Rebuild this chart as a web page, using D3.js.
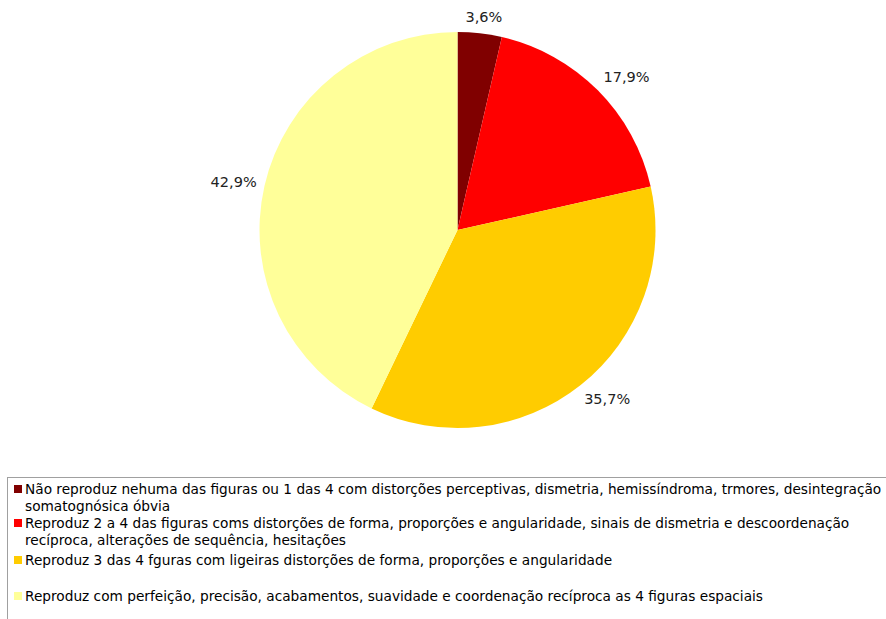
<!DOCTYPE html>
<html>
<head>
<meta charset="utf-8">
<script src="https://cdn.jsdelivr.net/npm/d3@7"></script>
<style>
  html, body { margin: 0; padding: 0; background: #fff; }
  svg { display: block; }
</style>
</head>
<body>
<div id="chart"></div>
<script>
// categories (legend text, may wrap onto two lines) and their shares
const categories = [
    ['Não reproduz nehuma das figuras ou 1 das 4 com distorções perceptivas, dismetria, hemissíndroma, trmores, desintegração', 'somatognósica óbvia'],
    ['Reproduz 2 a 4 das figuras coms distorções de forma, proporções e angularidade, sinais de dismetria e descoordenação', 'recíproca, alterações de sequência, hesitações'],
    ['Reproduz 3 das 4 fguras com ligeiras distorções de forma, proporções e angularidade'],
    ['Reproduz com perfeição, precisão, acabamentos, suavidade e coordenação recíproca as 4 figuras espaciais']
];
const values = [3.6, 17.9, 35.7, 42.9];
const labels = ['3,6%', '17,9%', '35,7%', '42,9%'];
const colors = ['#800000', '#ff0000', '#ffcc00', '#ffff99'];

const width = 886, height = 619;
const cx = 457.5, cy = 230, radius = 198;

const svg = d3.select('#chart')
    .append('svg')
    .attr('width', width)
    .attr('height', height);

const pie = d3.pie().sort(null).value(d => d)(values);
const arc = d3.arc().innerRadius(0).outerRadius(radius);

const g = svg.append('g').attr('transform', `translate(${cx},${cy})`);

g.selectAll('path.slice')
    .data(pie)
    .enter()
    .append('path')
    .attr('class', 'slice')
    .attr('d', arc)
    .attr('fill', (d, i) => colors[i]);

// data labels just outside the rim, box shifted away from the pie
const lbl = g.selectAll('text.lbl')
    .data(pie)
    .enter()
    .append('text')
    .attr('class', 'lbl')
    .attr('text-anchor', 'middle')
    .attr('dominant-baseline', 'central')
    .style('font-family', 'DejaVu Sans, Verdana, sans-serif')
    .style('font-size', '14.5px')
    .style('fill', '#222')
    .text((d, i) => labels[i]);

lbl.each(function (d) {
    const bb = this.getBBox();
    const a = (d.startAngle + d.endAngle) / 2;
    const s = Math.sin(a), c = Math.cos(a);
    const r = radius + 8;
    const kx = Math.sign(s) * Math.min(1, Math.abs(s) * 1.5);
    const ky = Math.sign(c) * Math.min(1, Math.abs(c) * 1.5);
    d3.select(this)
        .attr('x', r * s + kx * bb.width / 2)
        .attr('y', -r * c - ky * bb.height / 2);
});

// legend
const legend = svg.append('g');
legend.append('rect')
    .attr('x', 7.5)
    .attr('y', 477.5)
    .attr('width', 900)
    .attr('height', 200)
    .attr('fill', 'none')
    .attr('stroke', '#a0a0a0')
    .attr('stroke-width', 1);

const itemY = [489, 523, 560, 596];
const lineGap = 17;

categories.forEach((lines, i) => {
    legend.append('rect')
        .attr('x', 14)
        .attr('y', itemY[i] - 4)
        .attr('width', 8)
        .attr('height', 8)
        .attr('fill', colors[i]);
    lines.forEach((t, j) => {
        legend.append('text')
            .attr('x', 25)
            .attr('y', itemY[i] + j * lineGap)
            .attr('dominant-baseline', 'central')
            .style('font-family', 'DejaVu Sans, Verdana, sans-serif')
            .style('font-size', '13.7px')
            .style('fill', '#000')
            .text(t);
    });
});
</script>
</body>
</html>
